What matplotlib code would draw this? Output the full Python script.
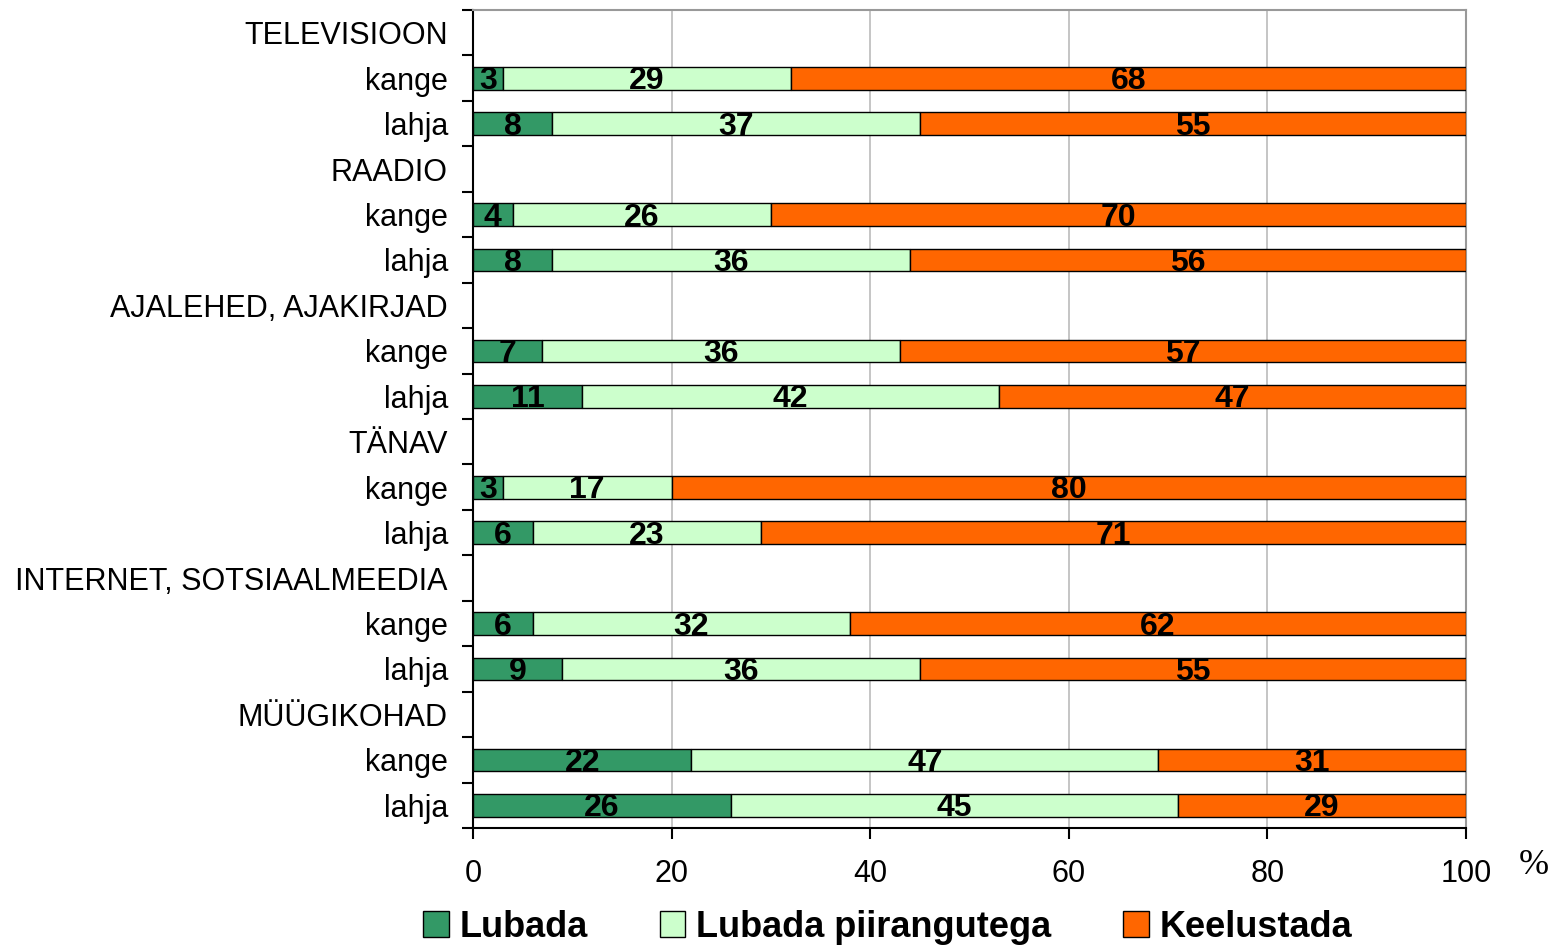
import matplotlib.pyplot as plt
import numpy as np
from matplotlib.patches import Patch

plt.rcParams['font.family'] = ['Liberation Sans', 'DejaVu Sans']

groups = ["TELEVISIOON", "RAADIO", "AJALEHED, AJAKIRJAD", "TÄNAV",
          "INTERNET, SOTSIAALMEEDIA", "MÜÜGIKOHAD"]
subrows = ["kange", "lahja"]

# per group: [kange, lahja]
lubada = [[3, 8], [4, 8], [7, 11], [3, 6], [6, 9], [22, 26]]
piirangutega = [[29, 37], [26, 36], [36, 42], [17, 23], [32, 36], [47, 45]]
keelustada = [[68, 55], [70, 56], [57, 47], [80, 71], [62, 55], [31, 29]]

series_names = ["Lubada", "Lubada piirangutega", "Keelustada"]
colors = ["#339966", "#CCFFCC", "#FF6600"]

# build row layout: header row followed by the two sub-rows
labels = []
bar_pos = []
bar_vals = []
pos = 0
for gi, g in enumerate(groups):
    labels.append(g)
    pos += 1
    for si, s in enumerate(subrows):
        labels.append(s)
        bar_pos.append(pos)
        bar_vals.append([lubada[gi][si], piirangutega[gi][si], keelustada[gi][si]])
        pos += 1
bar_vals = np.array(bar_vals)
bar_pos = np.array(bar_pos)

fig = plt.figure(figsize=(15.6, 9.46), dpi=100)
ax = fig.add_axes([0.3032, 0.1247, 0.6365, 0.8647])

left = np.zeros(len(bar_pos))
for k in range(3):
    ax.barh(bar_pos, bar_vals[:, k], left=left, height=0.5, color=colors[k],
            edgecolor="black", linewidth=1, zorder=3)
    for y, l, v in zip(bar_pos, left, bar_vals[:, k]):
        ax.text(l + v / 2, y + 0.07, str(v), ha="center", va="center",
                fontsize=23, fontweight="bold", color="black", zorder=4)
    left = left + bar_vals[:, k]

n = len(labels)
ax.set_ylim(n - 0.5, -0.5)
ax.set_xlim(0, 100)

ax.set_yticks(np.arange(-0.5, n, 1.0))
ax.set_yticklabels([])
ax.set_yticks(np.arange(n), minor=True)
ax.set_yticklabels(labels, minor=True, fontsize=22)
ax.tick_params(axis="y", which="minor", length=0, pad=18)
ax.tick_params(axis="y", which="major", length=8, width=1.5, direction="out")

ax.set_xticks(np.arange(0, 101, 20))
ax.tick_params(axis="x", length=8, width=1.5, direction="out", labelsize=22, pad=14)
ax.xaxis.grid(True, color="#C0C0C0", linewidth=1.3, zorder=0)
ax.set_axisbelow(True)

for side in ["top", "right"]:
    ax.spines[side].set_color("#999999")
    ax.spines[side].set_linewidth(1.5)
for side in ["bottom", "left"]:
    ax.spines[side].set_color("black")
    ax.spines[side].set_linewidth(1.5)

fig.text(0.983, 0.085, "%", fontsize=26, family=["Liberation Serif", "DejaVu Serif"],
         ha="center", va="center")

handles = [Patch(facecolor=c, edgecolor="black", linewidth=1) for c in colors]
fig.legend(handles, series_names, loc="center", bbox_to_anchor=(0.569, 0.02),
           ncol=3, frameon=False, prop={"size": 26, "weight": "bold"},
           handlelength=0.7, handleheight=0.7, handletextpad=0.3, columnspacing=2.0)

fig.savefig("out.png", dpi=100)
